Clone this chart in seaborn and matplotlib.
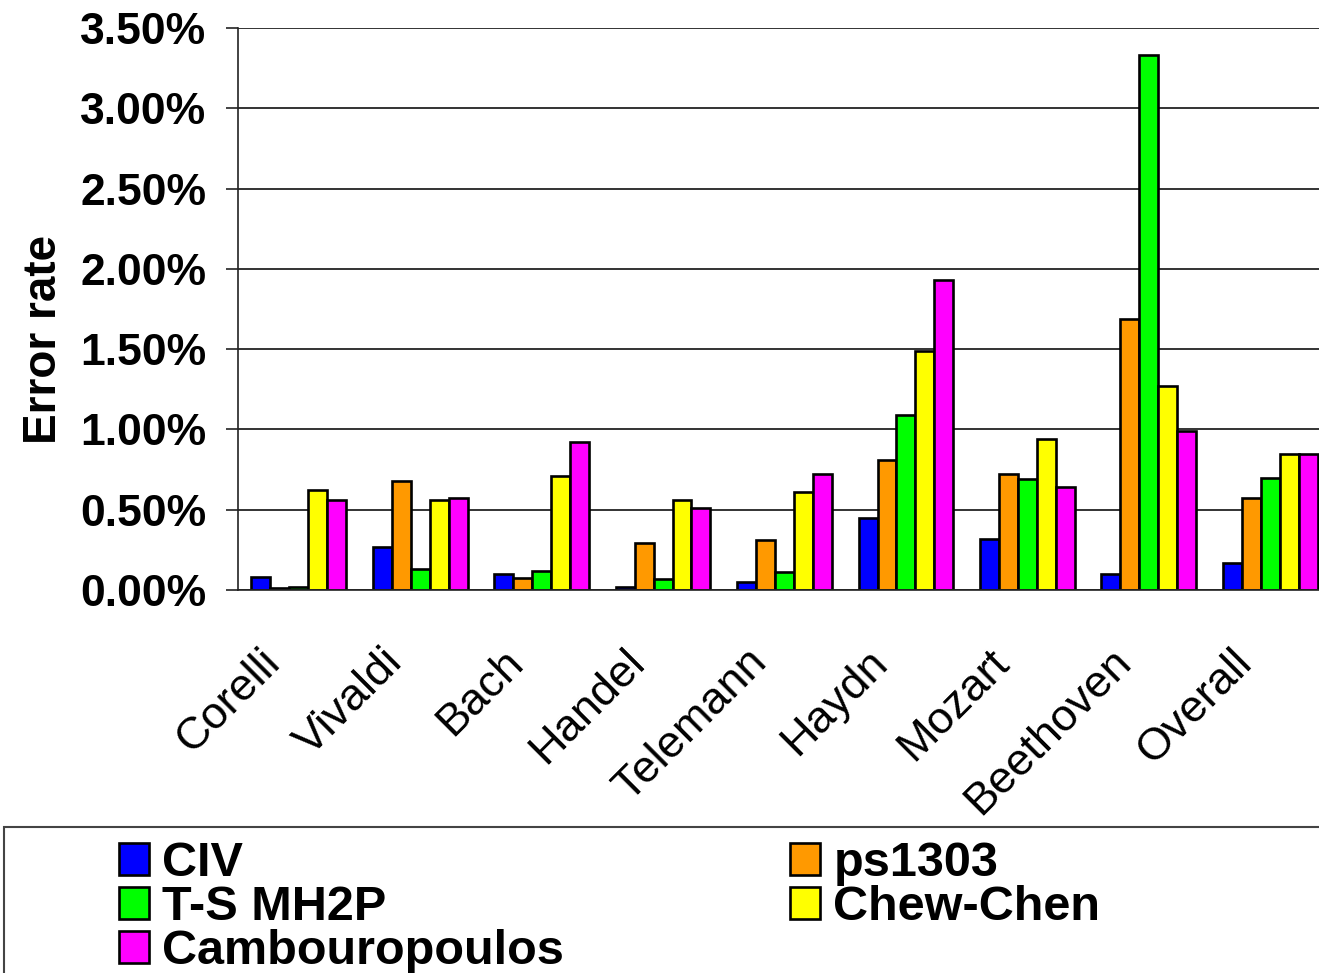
import matplotlib
matplotlib.use("Agg")
import matplotlib.pyplot as plt
import matplotlib.transforms as mtransforms
from matplotlib.patches import Rectangle
from matplotlib.ticker import PercentFormatter
import seaborn as sns
import pandas as pd
import numpy as np

composers = ["Corelli", "Vivaldi", "Bach", "Handel", "Telemann",
             "Haydn", "Mozart", "Beethoven", "Overall"]
methods = ["CIV", "ps1303", "T-S MH2P", "Chew-Chen", "Cambouropoulos"]

# error rates in percent, one list per method (order follows composers)
civ = [0.08, 0.27, 0.10, 0.02, 0.05, 0.45, 0.32, 0.10, 0.17]
ps1303 = [0.01, 0.68, 0.075, 0.29, 0.31, 0.81, 0.72, 1.69, 0.57]
ts_mh2p = [0.02, 0.13, 0.12, 0.07, 0.11, 1.09, 0.69, 3.33, 0.70]
chew_chen = [0.62, 0.56, 0.71, 0.56, 0.61, 1.49, 0.94, 1.27, 0.85]
cambouropoulos = [0.56, 0.57, 0.92, 0.51, 0.72, 1.93, 0.64, 0.99, 0.85]

colors = ["#0000FF", "#FF9900", "#00FF00", "#FFFF00", "#FF00FF"]

series = [civ, ps1303, ts_mh2p, chew_chen, cambouropoulos]
rows = []
for m, vals in zip(methods, series):
    for c, v in zip(composers, vals):
        rows.append({"composer": c, "method": m, "rate": v})
df = pd.DataFrame(rows)

sns.set_style("white")
plt.rcParams["font.family"] = ["Liberation Sans", "DejaVu Sans"]
plt.rcParams["text.color"] = "black"
plt.rcParams["axes.labelcolor"] = "black"
plt.rcParams["xtick.color"] = "black"
plt.rcParams["ytick.color"] = "black"

fig = plt.figure(figsize=(13.19, 9.73), dpi=100)
ax = fig.add_axes([238 / 1319, 1 - 590 / 973, 1093 / 1319, 562 / 973])

sns.barplot(data=df, x="composer", y="rate", hue="method", palette=colors,
            saturation=1, width=0.78, edgecolor="black", linewidth=1.9,
            ax=ax, order=composers, hue_order=methods)

handles, labels = ax.get_legend_handles_labels()
ax.legend_.remove()

ax.set_ylim(0, 3.5)
ax.set_xlim(-0.5, 8.5)
ax.set_yticks(np.arange(0, 3.51, 0.5))
ax.yaxis.set_major_formatter(PercentFormatter(xmax=100, decimals=2))
ax.yaxis.grid(True, color="#111111", linewidth=1.2)
ax.set_axisbelow(True)

for s in ["top", "right"]:
    ax.spines[s].set_visible(False)
for s in ["left", "bottom"]:
    ax.spines[s].set_color("#222222")
    ax.spines[s].set_linewidth(1.2)

ax.set_xticks(np.arange(-0.5, 9, 1), minor=True)
ax.tick_params(axis="x", which="major", length=0, pad=37, labelsize=32.5,
               labelcolor="black")
ax.tick_params(axis="x", which="minor", length=11, width=1.2, direction="out",
               color="#222222")
ax.tick_params(axis="y", length=9, width=1.2, direction="out", left=True,
               color="#222222", labelsize=32, pad=14, labelcolor="black")
for lab in ax.get_yticklabels():
    lab.set_fontweight("bold")

shift = mtransforms.ScaledTranslation(-0.1, 0, fig.dpi_scale_trans)
for lab in ax.get_xticklabels():
    lab.set_rotation(45)
    lab.set_ha("right")
    lab.set_transform(lab.get_transform() + shift)

ax.set_xlabel("")
ax.set_ylabel("Error rate", fontsize=33, fontweight="bold", color="black")
ax.yaxis.set_label_coords(-0.157, 0.445)

# legend box spanning the bottom of the figure
fig.patches.append(Rectangle((4 / 1319, -0.01), 1.0, 0.16, transform=fig.transFigure,
                             fill=False, edgecolor="#444444", linewidth=1.5))

order = [0, 2, 4, 1, 3]
fig.legend([handles[i] for i in order], [labels[i] for i in order],
           loc="upper left", bbox_to_anchor=(119 / 1319, 1 - 841 / 973),
           ncol=2, frameon=False, borderpad=0, borderaxespad=0,
           prop={"size": 35, "weight": "bold"}, handlelength=0.62,
           handleheight=0.62, handletextpad=0.27, columnspacing=4.65,
           labelspacing=-0.02, labelcolor="black")

fig.savefig("out.png", dpi=100)
